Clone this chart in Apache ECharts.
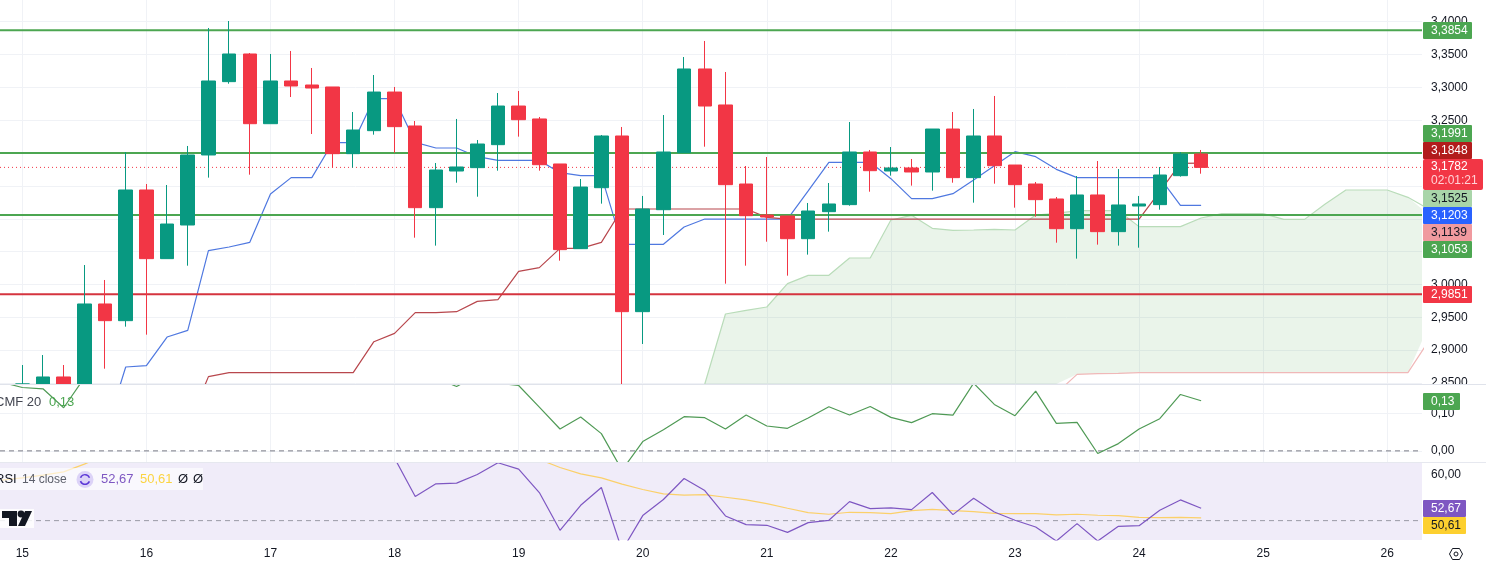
<!DOCTYPE html>
<html>
<head>
<meta charset="utf-8">
<style>html,body{margin:0;padding:0;background:#fff}#c{width:1486px;height:564px}</style>
<script src="https://cdn.jsdelivr.net/npm/echarts@6/dist/echarts.min.js"></script>
</head>
<body>
<div id="c"></div>
<script>
// candle values, one entry every 4 hours, starting at the "15" tick
const opens  = [2.8485,2.8485,2.8592,2.8485,2.9703,2.9449,3.1438,3.0393,3.0905,3.1971,3.3087,3.3508,3.2447,3.3097,3.3036,3.3006,3.1991,3.2341,3.2929,3.2412,3.1169,3.1727,3.1778,3.2128,3.2716,3.2519,3.1834,3.0545,3.1473,3.2260,2.9586,3.1138,3.2006,3.3280,3.2732,3.1529,3.1057,3.1042,3.0697,3.1108,3.1215,3.2016,3.1727,3.1773,3.1712,3.2366,3.1626,3.2260,3.1818,3.1529,3.1301,3.0849,3.1362,3.0804,3.1194,3.1215,3.1656,3.1986];
const closes = [2.8485,2.8592,2.8485,2.9703,2.9449,3.1438,3.0393,3.0920,3.1971,3.3097,3.3508,3.2447,3.3097,3.3021,3.2990,3.1991,3.2351,3.2929,3.2402,3.1169,3.1742,3.1788,3.2138,3.2716,3.2508,3.1823,3.0530,3.1483,3.2260,2.9586,3.1149,3.2016,3.3280,3.2716,3.1519,3.1047,3.1027,3.0697,3.1118,3.1225,3.2016,3.1732,3.1773,3.1712,3.2366,3.1626,3.2260,3.1808,3.1519,3.1291,3.0849,3.1362,3.0804,3.1210,3.1225,3.1666,3.1986,3.1782];
const lows   = [2.8485,2.8485,2.8485,2.8485,2.8718,2.9358,2.9236,3.0393,3.0286,3.1626,3.3056,3.1671,3.2447,3.2853,3.2290,3.1778,3.1778,3.2280,3.2006,3.0712,3.0591,3.1549,3.1336,3.1732,3.2250,3.1732,3.0362,3.0545,3.1230,2.8485,2.9094,3.0753,3.2006,3.2097,3.0012,3.0286,3.0651,3.0134,3.0454,3.0804,3.1199,3.1412,3.1656,3.1504,3.1428,3.1549,3.1245,3.1534,3.1169,3.1032,3.0636,3.0393,3.0606,3.0591,3.0560,3.1138,3.1641,3.1686];
const highs  = [2.8774,2.8926,2.8774,3.0296,3.0068,3.2016,3.1529,3.1514,3.2108,3.3904,3.4010,3.3523,3.3508,3.3554,3.3295,3.3006,3.2625,3.3188,3.3006,3.2488,3.1849,3.2519,3.2199,3.2914,3.2945,3.2549,3.1834,3.1605,3.2275,3.2397,3.1347,3.2579,3.3462,3.3706,3.3234,3.1803,3.1940,3.1042,3.1240,3.1544,3.2473,3.2047,3.2092,3.1910,3.2366,3.2625,3.2671,3.2869,3.1818,3.1560,3.1331,3.1651,3.1879,3.1757,3.1347,3.1788,3.2016,3.2047];

// Ichimoku-style lines
const conversionStart = 4;
const conversionLine = [2.7729,2.8744,2.8764,2.92,2.9302,3.0514,3.057,3.0641,3.1377,3.1626,3.1626,3.2158,3.2158,3.2828,3.2828,3.2163,3.2077,3.2077,3.1945,3.1889,3.1889,3.1889,3.1702,3.1656,3.1656,3.0611,3.0611,3.0611,3.0875,3.0996,3.0996,3.0996,3.0996,3.0996,3.1423,3.1859,3.1859,3.1859,3.161,3.1306,3.1306,3.1382,3.159,3.1808,3.2021,3.1945,3.1752,3.1626,3.1626,3.1626,3.1626,3.1626,3.1204,3.1203];
const baseStart = 8;
const baseLine = [2.7835,2.8597,2.8657,2.8657,2.8657,2.8657,2.8657,2.8657,2.8657,2.9129,2.9256,2.9571,2.9571,2.9586,2.9743,2.9769,3.02,3.0256,3.055,3.055,3.0641,3.1149,3.1149,3.1149,3.1149,3.1149,3.1149,3.1149,3.1022,3.0996,3.0996,3.0996,3.0996,3.0996,3.0996,3.0996,3.0996,3.0996,3.0996,3.0996,3.0996,3.0996,3.0996,3.0996,3.0996,3.0996,3.0996,3.1412,3.1844,3.1848];
const cloudStart = 33;
const spanA = [2.8485,2.955,2.9606,2.9657,3.0012,3.0139,3.0139,3.0403,3.0403,3.0981,3.1052,3.0854,3.0824,3.0829,3.0839,3.0829,3.1057,3.1083,3.1123,3.1123,3.1123,3.088,3.088,3.088,3.1012,3.1078,3.1078,3.1078,3.0991,3.0991,3.1225,3.1438,3.1438,3.1438,3.1326,3.1149];
const spanB = [2.80,2.80,2.80,2.80,2.80,2.80,2.80,2.80,2.80,2.80,2.80,2.80,2.80,2.80,2.80,2.80,2.82,2.8343,2.8632,2.8642,2.8647,2.8657,2.8657,2.8657,2.8657,2.8657,2.8657,2.8657,2.8657,2.8657,2.8657,2.8657,2.8657,2.8657,2.8657,2.914];

// horizontal levels and last price, as drawn
const greenLevels = [3.3868,3.2001,3.1057];
const redLevels = [2.9851];
const lastPrice = [3.1782];

// CMF 20
const cmfStart = -1;
const cmfValues = [0.1848,0.1705,0.167,0.1161,0.1964,0.22,0.25,0.27,0.28,0.29,0.3,0.3,0.29,0.28,0.27,0.27,0.26,0.26,0.25,0.23,0.21,0.196,0.1732,0.204,0.182,0.1759,0.1179,0.0589,0.0911,0.0464,-0.0518,0.025,0.0571,0.092,0.0893,0.0589,0.0964,0.067,0.0607,0.0884,0.1188,0.0964,0.1196,0.0902,0.0759,0.1,0.0964,0.1821,0.125,0.0946,0.1607,0.0741,0.0768,-0.0071,0.0196,0.0589,0.0866,0.1518,0.1348];
const cmfTicks = [0,0.1];

// RSI 14 and its average
const rsiStart = 17;
const rsiValues = [66,63.55,55.22,57.97,58.12,60,62.54,61.16,56.09,47.9,53.33,57.17,43.55,51.09,54.57,59.13,56.52,51.01,49.13,48.99,47.46,49.57,50.07,54.13,52.61,52.75,52.39,56.09,51.3,54.86,51.88,50.07,48.62,45.58,49.35,45.58,48.77,48.91,52.25,54.49,52.67];
const rsiMaStart = -1;
const rsiMaValues = [58.77,59.28,59.86,60.58,62.25,64.2,65,65.5,66,66.5,67,67,67.5,67.5,67,67,66.5,66.5,66,66,65.5,65.5,65,65,64.5,64,63.26,61.52,60.14,59.28,57.9,56.74,55.8,55.51,55.65,55.07,54.49,53.7,52.68,51.74,51.38,51.81,51.74,51.52,52.17,52.46,52.17,51.96,51.59,51.52,51.52,51.23,51.38,51.16,51.09,50.72,50.65,50.72,50.61];
const rsiTicks = [60];
const rsiMid = [50];

// axes
const dayLabels = ['15','16','17','18','19','20','21','22','23','24','25','26'];
const dayTicks = [0,6,12,18,24,30,36,42,48,54,60,66];
const priceTicks = [2.85,2.9,2.95,3,3.05,3.1,3.15,3.2,3.25,3.3,3.35,3.4];

const FONT = '"Liberation Sans", Arial, sans-serif';
const xMin = -1.0783, xMax = 67.68;
const GREEN='#4ca651', RED='#f23645', TEAL='#089981', BLUE='#2962ff', PURPLE='#7e57c2', GRID='#f0f2f6';

const pair = (start, arr) => arr.map((v, i) => [start + i, v]);
const comma = (v, n) => v.toFixed(n).replace('.', ',');

const xAxisBase = (gridIndex, show) => ({
  type:'value', gridIndex, min:xMin, max:xMax,
  axisLine:{show:false}, axisTick:{show:false, customValues:dayTicks},
  splitLine:{show:true, lineStyle:{color:GRID, width:1}},
  axisLabel:{show, customValues:dayTicks, color:'#131722', fontSize:12, fontFamily:FONT, margin:8,
    formatter:v=>dayLabels[Math.round(v/6)]}
});
const yAxisBase = (gridIndex, min, max, ticks, digits) => ({
  type:'value', gridIndex, position:'right', min, max, scale:true,
  axisLine:{show:false}, axisTick:{show:false, customValues:ticks},
  splitLine:{show:true, lineStyle:{color:GRID, width:1}},
  axisLabel:{customValues:ticks, color:'#131722', fontSize:12, fontFamily:FONT, margin:9, align:'left',
    showMinLabel:true, showMaxLabel:true, formatter:v=>comma(v,digits)}
});
const line = (name, xi, data, color, width, z, extra) => Object.assign({
  name, type:'line', xAxisIndex:xi, yAxisIndex:xi, data, showSymbol:false, symbol:'none', silent:true, z,
  lineStyle:{color, width}, clip:true, animation:false
}, extra||{});
const levelLine = (v, color, width, z, extra) => line('lvl', 0, [[xMin,v],[xMax,v]], color, width, z, extra);

const series = [];
series.push({
  name:'cloudFill', type:'custom', xAxisIndex:0, yAxisIndex:0, z:1, silent:true, clip:true, animation:false,
  encode:{x:0,y:1}, data:[[cloudStart,spanA[0]]],
  renderItem:(params,api)=>{
    const pts = [];
    spanA.forEach((v,i)=>pts.push(api.coord([cloudStart+i,v])));
    for(let i=spanB.length-1;i>=0;i--) pts.push(api.coord([cloudStart+i,spanB[i]]));
    const c = params.coordSys;
    return {type:'polygon',shape:{points:echarts.graphic.clipPointsByRect(pts,{x:c.x,y:c.y,width:c.width,height:c.height})},style:{fill:'rgba(67,160,71,0.115)'}};
  }
});
series.push(line('spanA',0,pair(cloudStart,spanA),'#b9dcb9',1.2,2));
series.push(line('spanB',0,pair(cloudStart,spanB),'#f0b8b8',1.2,2));
greenLevels.forEach(v=>series.push(levelLine(v,GREEN,2,4)));
redLevels.forEach(v=>series.push(levelLine(v,'#d5343f',2,4)));
series.push(levelLine(lastPrice[0],RED,1,3,{lineStyle:{color:RED,width:1,type:[1,3]}}));
series.push(line('conversion',0,pair(conversionStart,conversionLine),'#4f78e0',1.2,3));
series.push(line('base',0,pair(baseStart,baseLine),'#b8474d',1.2,3));
series.push({
  name:'price', type:'candlestick', xAxisIndex:0, yAxisIndex:0, barWidth:14, z:5, silent:true, animation:false,
  encode:{x:0,y:[1,2,3,4]},
  data:opens.map((o,i)=>[i,o,closes[i],lows[i],highs[i]]),
  itemStyle:{color:TEAL,color0:RED,borderColor:TEAL,borderColor0:RED,borderColorDoji:TEAL,borderWidth:1}
});
series.push(line('cmf',1,pair(cmfStart,cmfValues),'#4f9a55',1.2,3));
series.push(line('cmfZero',1,[[xMin,0],[xMax,0]],'#787b86',1,2,{lineStyle:{color:'#787b86',width:1,type:[5,4]}}));
series.push(line('rsiMid',2,[[xMin,rsiMid[0]],[xMax,rsiMid[0]]],'#9a9aa5',1,2,{lineStyle:{color:'#9a9aa5',width:1,type:[5,4]}}));
series.push(line('rsiMa',2,pair(rsiMaStart,rsiMaValues),'#fbd06a',1.2,3));
series.push(line('rsi',2,pair(rsiStart,rsiValues),PURPLE,1.2,4));

// value labels on the right-hand scale
const tags = [
  ['3,3854',22,17,49,GREEN,'#fff'],
  ['3,1991',125,17,49,GREEN,'#fff'],
  ['3,1848',142,17,49,'#b21c1c','#fff'],
  ['3,1525',190,17,49,'#a9d5a9','#131722'],
  ['3,1203',207,17,49,BLUE,'#fff'],
  ['3,1139',224,17,49,'#f09a9f','#131722'],
  ['3,1053',241,17,49,GREEN,'#fff'],
  ['2,9851',286,17,49,RED,'#fff'],
  ['0,13',393,17,37,GREEN,'#fff'],
  ['52,67',500,17,43,PURPLE,'#fff'],
  ['50,61',517,17,43,'#fdd02f','#131722']
];
const g = [];
const Z = 50;
g.push({type:'rect',z:1,shape:{x:0,y:462.5,width:1422,height:77.5},style:{fill:'#f0ecf9'},silent:true});
g.push({type:'rect',z:Z-1,shape:{x:1423,y:385,width:63,height:8},style:{fill:'#fff'}});
g.push({type:'rect',z:Z,shape:{x:0,y:384,width:1486,height:1},style:{fill:'#e0e3eb'}});
g.push({type:'rect',z:Z,shape:{x:0,y:462,width:1486,height:1},style:{fill:'#e6e8ef'}});
tags.forEach(t=>{
  g.push({type:'rect',z:Z,shape:{x:1423,y:t[1],width:t[3],height:t[2],r:1},style:{fill:t[4]}});
  g.push({type:'text',z:Z+1,x:1431,y:t[1]+t[2]/2,style:{text:t[0],fill:t[5],font:'12px '+FONT,textVerticalAlign:'middle'}});
});
g.push({type:'rect',z:Z,shape:{x:1423,y:159,width:60,height:31,r:2},style:{fill:RED}});
g.push({type:'text',z:Z+1,x:1431,y:167,style:{text:'3,1782',fill:'#fff',font:'12px '+FONT,textVerticalAlign:'middle'}});
g.push({type:'text',z:Z+1,x:1431,y:181,style:{text:'02:01:21',fill:'#ffd3d7',font:'12px '+FONT,textVerticalAlign:'middle'}});
// legends
const lg = (text,x,y,fill,size)=>g.push({type:'text',z:Z+1,x,y,style:{text,fill,font:(size||13)+'px '+FONT,textVerticalAlign:'middle'}});
lg('CMF 20',-5,402,'#434651');
lg('0,13',49,402,'#4ca651');
g.push({type:'rect',z:Z-1,shape:{x:0,y:468,width:203,height:22},style:{fill:'rgba(255,255,255,0.62)'}});
lg('RSI',-5,479.5,'#131722');
lg('14 close',22,479.5,'#5d606b',12);
g.push({type:'circle',z:Z,shape:{cx:85,cy:479.5,r:8.5},style:{fill:'#dcd3f7'}});
g.push({type:'arc',z:Z+1,shape:{cx:85,cy:479.5,r:4.8,startAngle:3.5,endAngle:5.9},style:{stroke:'#5b37d6',lineWidth:1.6,fill:null}});
g.push({type:'arc',z:Z+1,shape:{cx:85,cy:479.5,r:4.8,startAngle:0.4,endAngle:2.8},style:{stroke:'#5b37d6',lineWidth:1.6,fill:null}});
lg('52,67',101,479.5,PURPLE);
lg('50,61',140,479.5,'#fbd442');
lg('Ø',178,479.5,'#131722');
lg('Ø',193,479.5,'#131722');
// TradingView mark
g.push({type:'rect',z:Z-1,shape:{x:0,y:509,width:34,height:19},style:{fill:'#fff',opacity:0.85}});
g.push({type:'polygon',z:Z,shape:{points:[[2,511],[17,511],[17,526],[9,526],[9,518],[2,518]]},style:{fill:'#131722'}});
g.push({type:'circle',z:Z,shape:{cx:21,cy:514,r:3.4},style:{fill:'#131722'}});
g.push({type:'polygon',z:Z,shape:{points:[[25,511],[32,511],[25,526],[18,526]]},style:{fill:'#131722'}});
// settings icon
g.push({type:'polygon',z:Z,shape:{points:[[1449.5,554],[1452.5,548.5],[1459.5,548.5],[1462.5,554],[1459.5,559.5],[1452.5,559.5]]},style:{stroke:'#131722',lineWidth:1,fill:'#fff'}});
g.push({type:'circle',z:Z,shape:{cx:1456,cy:554,r:2},style:{stroke:'#131722',lineWidth:1,fill:'#fff'}});

const chart = echarts.init(document.getElementById('c'),null,{renderer:'canvas'});
chart.setOption({
  animation:false, backgroundColor:'#fff', tooltip:{show:false}, legend:{show:false},
  textStyle:{fontFamily:FONT},
  grid:[
    {left:0,top:0,width:1422,height:384,containLabel:false},
    {left:0,top:384.5,width:1422,height:78,containLabel:false},
    {left:0,top:462.5,width:1422,height:77.5,containLabel:false}
  ],
  xAxis:[xAxisBase(0,false),xAxisBase(1,false),xAxisBase(2,true)],
  yAxis:[
    yAxisBase(0,2.8485,3.43298,priceTicks,4),
    yAxisBase(1,-0.03125,0.1786,cmfTicks,2),
    yAxisBase(2,45.8,62.6,rsiTicks,2)
  ],
  series, graphic:{elements:g}
});
</script>
</body>
</html>
